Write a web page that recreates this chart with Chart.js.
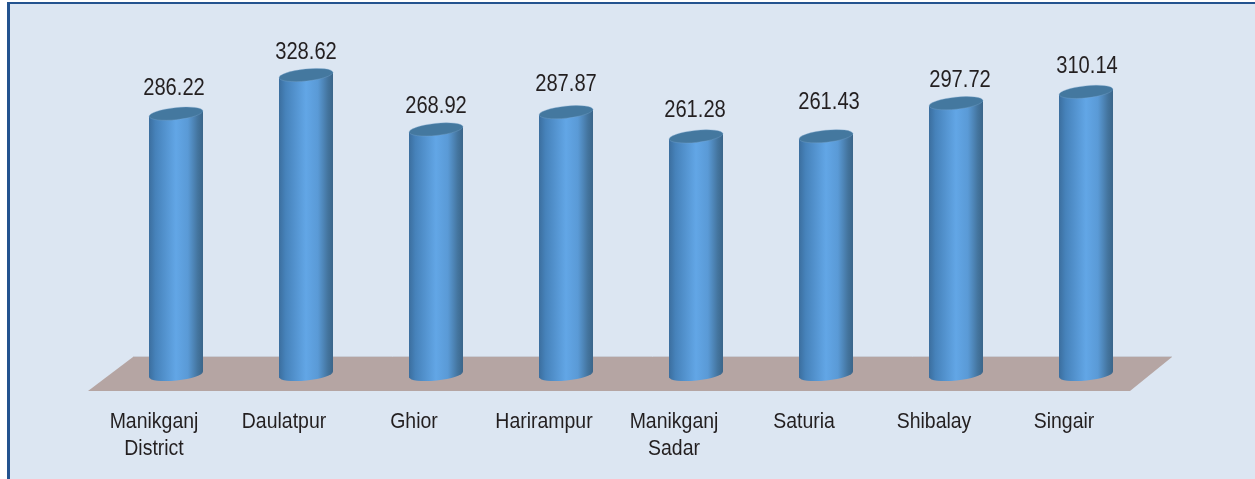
<!DOCTYPE html>
<html>
<head>
<meta charset="utf-8">
<script src="https://cdn.jsdelivr.net/npm/chart.js@4"></script>
<style>
html,body{margin:0;padding:0;background:#fff;overflow:hidden}
#panel{position:absolute;left:7px;top:2px;width:1248px;height:477px;box-sizing:border-box;background:#DCE6F2;border-left:3px solid #23538F;border-top:2px solid #23538F}
#c{position:absolute;left:0;top:0}
</style>
</head>
<body>
<div id="panel"></div>
<canvas id="c" width="1255" height="479"></canvas>
<script>
const categories = [["Manikganj","District"],"Daulatpur","Ghior","Harirampur",["Manikganj","Sadar"],"Saturia","Shibalay","Singair"];
const values = [286.22,328.62,268.92,287.87,261.28,261.43,297.72,310.14];
const valueLabels = ["286.22","328.62","268.92","287.87","261.28","261.43","297.72","310.14"];

const FONT = '"Liberation Sans",Arial,sans-serif';
const TILT = -6 * Math.PI / 180;
const RY = 6;
const TICK_SQUEEZE = 0.865;
const VALUE_SQUEEZE = 0.84;
const labelNudgeX = [-1,1,1,1,0,4,5,2];
const labelNudgeY = [0,2,2,-3,-1,-9,2,-1];

function cylGradient(ctx, cx, w){
  const g = ctx.createLinearGradient(cx - w/2, 0, cx + w/2, 0);
  g.addColorStop(0, '#3B6E9E');
  g.addColorStop(0.12, '#4682BA');
  g.addColorStop(0.5, '#62A6E6');
  g.addColorStop(0.72, '#5A9AD6');
  g.addColorStop(0.9, '#44759F');
  g.addColorStop(1, '#3A6589');
  return g;
}

const cylinder = {
  id: 'cylinder',
  afterLayout(chart){
    const s = chart.scales.x;
    if (s._squeezed) return;
    s._squeezed = true;
    const draw = s.drawLabels, items = s.getLabelItems;
    s._computeLabelArea = () => undefined;
    s.drawLabels = function(area){
      const c = this.ctx;
      this.getLabelItems = a => items.call(this, a).map(it => ({
        ...it,
        options: {...it.options, translation: [it.options.translation[0] / TICK_SQUEEZE, it.options.translation[1]]}
      }));
      c.save();
      c.scale(TICK_SQUEEZE, 1);
      draw.call(this, area);
      c.restore();
      this.getLabelItems = items;
    };
  },
  beforeDatasetsDraw(chart){
    const {ctx, chartArea:a} = chart;
    ctx.save();
    ctx.fillStyle = '#B5A5A3';
    ctx.beginPath();
    ctx.moveTo(a.left + 22, a.bottom - 17.5);
    ctx.lineTo(a.right + 21, a.bottom - 17.5);
    ctx.lineTo(a.right - 21, a.bottom + 16.5);
    ctx.lineTo(a.left - 23, a.bottom + 16.5);
    ctx.closePath();
    ctx.fill();
    ctx.strokeStyle = '#C9CDD6';
    ctx.lineWidth = 1;
    ctx.beginPath();
    ctx.moveTo(a.left + 22, a.bottom - 18);
    ctx.lineTo(a.right + 21, a.bottom - 18);
    ctx.stroke();
    ctx.restore();
  },
  beforeDatasetDraw(chart){
    const {ctx, chartArea:a} = chart;
    const rise = Math.sin(-TILT);
    ctx.save();
    ctx.beginPath();
    chart.getDatasetMeta(0).data.forEach(bar => {
      const r = bar.width / 2;
      ctx.moveTo(bar.x - r, bar.y + r * rise);
      ctx.lineTo(bar.x + r, bar.y - r * rise);
      ctx.lineTo(bar.x + r, a.bottom - r * rise);
      ctx.lineTo(bar.x - r, a.bottom + r * rise);
      ctx.closePath();
    });
    ctx.clip();
  },
  afterDatasetDraw(chart){
    chart.ctx.restore();
  },
  afterDatasetsDraw(chart){
    const {ctx, chartArea:a} = chart;
    const rise = Math.sin(-TILT);
    chart.getDatasetMeta(0).data.forEach((bar, i) => {
      const w = bar.width, r = w/2;
      ctx.save();
      ctx.fillStyle = cylGradient(ctx, bar.x, w);
      ctx.fillRect(bar.x - r, a.bottom - 1, r, r * rise + 1);
      ctx.beginPath();
      ctx.ellipse(bar.x, a.bottom, r, RY, TILT, 0, Math.PI*2);
      ctx.fill();
      ctx.fillRect(bar.x, bar.y - r * rise, r, r * rise + 1);
      ctx.fillStyle = '#44789F';
      ctx.strokeStyle = 'rgba(120,165,205,0.6)';
      ctx.lineWidth = 0.6;
      ctx.beginPath();
      ctx.ellipse(bar.x, bar.y, r, RY, TILT, 0, Math.PI*2);
      ctx.fill();
      ctx.stroke();
      ctx.fillStyle = '#231F20';
      ctx.font = '24px ' + FONT;
      ctx.textAlign = 'center';
      ctx.textBaseline = 'middle';
      ctx.translate(bar.x - 1 + labelNudgeX[i], bar.y - 25 + labelNudgeY[i]);
      ctx.scale(VALUE_SQUEEZE, 1);
      ctx.fillText(valueLabels[i], 0, 0);
      ctx.restore();
    });
  }
};

new Chart(document.getElementById('c'), {
  type: 'bar',
  data: {
    labels: categories,
    datasets: [{
      data: values,
      barThickness: 54,
      borderWidth: 0,
      backgroundColor(c){
        const ch = c.chart;
        if (!ch.chartArea) return '#5A9AD6';
        return cylGradient(ch.ctx, ch.scales.x.getPixelForValue(c.dataIndex), 54);
      }
    }]
  },
  plugins: [cylinder],
  options: {
    responsive: false,
    animation: false,
    layout: {padding: {left: 111, right: 104, top: 10, bottom: 0}},
    plugins: {legend: {display: false}, tooltip: {enabled: false}},
    scales: {
      y: {display: false, min: 0, max: 400},
      x: {
        afterFit(s){ s.height = 104.5; },
        border: {display: false},
        grid: {display: false, drawTicks: false},
        ticks: {
          color: '#231F20',
          padding: 34,
          labelOffset: -22,
          maxRotation: 0,
          autoSkip: false,
          font: {family: FONT, size: 22.5, lineHeight: 1.2}
        }
      }
    }
  }
});
</script>
</body>
</html>
